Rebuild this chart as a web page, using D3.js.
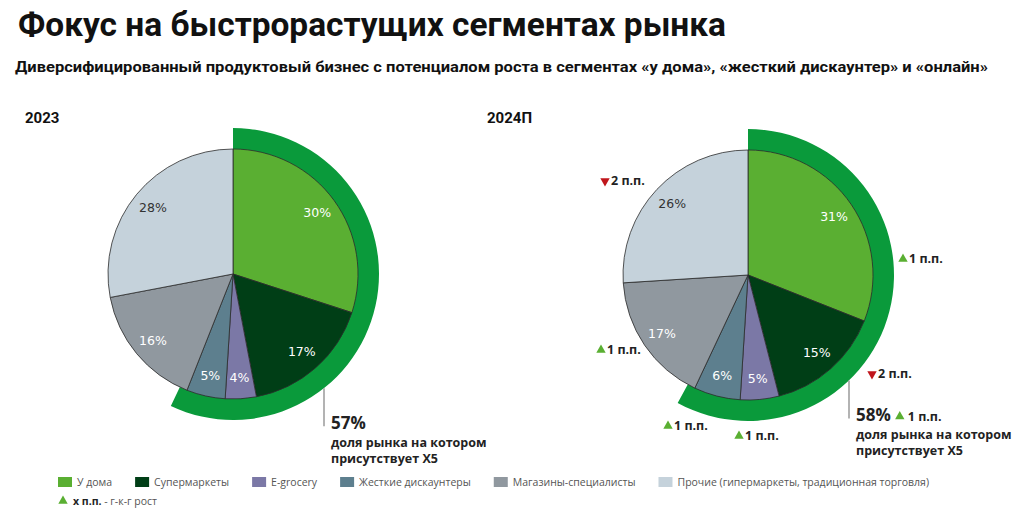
<!DOCTYPE html>
<html>
<head>
<meta charset="utf-8">
<script src="https://cdn.jsdelivr.net/npm/d3@7"></script>
<style>
  body { margin: 0; background: #fff; }
  svg { display: block; }
</style>
</head>
<body>
<svg id="chart" width="1024" height="512"></svg>
<script>
const categories = [
  "У дома",
  "Супермаркеты",
  "E-grocery",
  "Жесткие дискаунтеры",
  "Магазины-специалисты",
  "Прочие (гипермаркеты, традиционная торговля)",
];
const share2023 = [30, 17, 4, 5, 16, 28];
const share2024 = [31, 15, 5, 6, 17, 26];
const change2024 = [1, -2, 1, 1, 1, -2]; // п.п. г-к-г
const years = ["2023", "2024П"];
const x5Share = [57, 58];
const x5Change = [null, 1];

const colors = ["#5aaf32", "#003e16", "#7b78a6", "#5d7f8e", "#90989f", "#c5d2db"];
const labelColors = ["#fff", "#fff", "#fff", "#fff", "#fff", "#333"];
const ringColor = "#0a9a3b";
const upColor = "#5aaf32";
const downColor = "#c0161c";
const textColor = "#222";
const font = "'Open Sans', 'Noto Sans', sans-serif";

const svg = d3.select("#chart");

// header
svg.append("text")
  .attr("x", 18).attr("y", 36)
  .attr("textLength", 708).attr("lengthAdjust", "spacingAndGlyphs")
  .style("font-family", "Roboto, sans-serif")
  .style("font-weight", "700")
  .style("font-size", "33px")
  .style("fill", "#111")
  .text("Фокус на быстрорастущих сегментах рынка");

svg.append("text")
  .attr("x", 15).attr("y", 72)
  .attr("textLength", 973).attr("lengthAdjust", "spacingAndGlyphs")
  .style("font-family", "Roboto, sans-serif")
  .style("font-weight", "700")
  .style("font-size", "15px")
  .style("fill", "#111")
  .text("Диверсифицированный продуктовый бизнес с потенциалом роста в сегментах «у дома», «жесткий дискаунтер» и «онлайн»");

const radius = 125;
const ringOuter = 146;
const centers = [[233, 274], [748, 275]];
const yearX = [25, 487];
// where the change notes sit, offsets from the 2024 pie centre
const noteOffsets = [[155, -16], [124, 99], [-9, 161], [-80, 151], [-147, 75], [-143, -94]];
// x offset of the X5 leader line from the pie centre
const leaderDx = [91, 101];

const pie = d3.pie().sort(null).value((d) => d);
const arc = d3.arc().innerRadius(0).outerRadius(radius);
const labelArc = d3.arc().innerRadius(104).outerRadius(104);
const ringArc = d3.arc().innerRadius(radius - 0.5).outerRadius(ringOuter);

function triangle(g, x, y, up) {
  const sym = d3.symbol().type(d3.symbolTriangle).size(38);
  g.append("path")
    .attr("d", sym())
    .attr("transform", `translate(${x},${y}) rotate(${up ? 0 : 180})`)
    .style("fill", up ? upColor : downColor);
}

[share2023, share2024].forEach((values, i) => {
  const [cx, cy] = centers[i];

  svg.append("text")
    .attr("x", yearX[i]).attr("y", 123)
    .style("font-family", "Roboto, sans-serif")
    .style("font-weight", "700")
    .style("font-size", "15px")
    .style("fill", "#111")
    .text(years[i]);

  const g = svg.append("g").attr("transform", `translate(${cx},${cy})`);

  // X5 presence ring
  g.append("path")
    .attr("d", ringArc({ startAngle: 0, endAngle: (x5Share[i] / 100) * 2 * Math.PI }))
    .style("fill", ringColor);

  const arcs = pie(values);

  g.selectAll("path.slice")
    .data(arcs)
    .enter()
    .append("path")
    .attr("class", "slice")
    .attr("d", arc)
    .style("fill", (d, j) => colors[j])
    .style("stroke", "#2b2b2b")
    .style("stroke-width", 0.8);

  g.selectAll("text.pct")
    .data(arcs)
    .enter()
    .append("text")
    .attr("class", "pct")
    .attr("transform", (d) => `translate(${labelArc.centroid(d)})`)
    .attr("text-anchor", "middle")
    .attr("dy", "0.35em")
    .style("font-family", "'DejaVu Sans', sans-serif")
    .style("font-size", "12.5px")
    .style("fill", (d, j) => labelColors[j])
    .text((d) => `${d.data}%`);

  // leader line + X5 share note
  const lx = leaderDx[i];
  const ly = Math.sqrt(ringOuter * ringOuter - lx * lx);
  g.append("line")
    .attr("x1", lx).attr("x2", lx)
    .attr("y1", ly).attr("y2", ly + 38)
    .style("stroke", "#9a9a9a")
    .style("stroke-width", 1.5);

  const note = g.append("g").attr("transform", `translate(${lx + 7},${ly + 41})`);
  const big = note.append("text")
    .style("font-family", font)
    .style("font-weight", "700")
    .style("font-size", "17px")
    .style("fill", textColor)
    .text(`${x5Share[i]}%`);
  if (x5Change[i] !== null) {
    const w = big.node().getComputedTextLength();
    triangle(note, w + 9, -5, x5Change[i] > 0);
    note.append("text")
      .attr("x", w + 17)
      .style("font-family", font)
      .style("font-weight", "700")
      .style("font-size", "12.5px")
      .style("fill", textColor)
      .text(`${Math.abs(x5Change[i])} п.п.`);
  }
  ["доля рынка на котором", "присутствует X5"].forEach((t, k) => {
    note.append("text")
      .attr("y", 18 + k * 16)
      .style("font-family", font)
      .style("font-weight", "700")
      .style("font-size", "12.5px")
      .style("fill", textColor)
      .text(t);
  });

  // year-on-year change notes (forecast only)
  if (i === 1) {
    change2024.forEach((c, j) => {
      const [dx, dy] = noteOffsets[j];
      triangle(g, dx, dy, c > 0);
      g.append("text")
        .attr("x", dx + 6).attr("y", dy)
        .attr("dy", "0.35em")
        .style("font-family", font)
        .style("font-weight", "700")
        .style("font-size", "12.5px")
        .style("fill", textColor)
        .text(`${Math.abs(c)} п.п.`);
    });
  }
});

// legend
const legend = svg.append("g").attr("transform", "translate(58,482)");
let lxPos = 0;
categories.forEach((name, j) => {
  const item = legend.append("g").attr("transform", `translate(${lxPos},0)`);
  item.append("rect")
    .attr("x", 0).attr("y", -5)
    .attr("width", 14).attr("height", 10)
    .style("fill", colors[j]);
  const t = item.append("text")
    .attr("x", 19).attr("dy", "0.35em")
    .style("font-family", font)
    .style("font-size", "10.5px")
    .style("fill", "#555")
    .text(name);
  lxPos += 19 + t.node().getComputedTextLength() + 23;
});

const key = svg.append("g").attr("transform", "translate(63,501)");
triangle(key, 0, 0, true);
const keyText = key.append("text")
  .attr("x", 10).attr("dy", "0.35em")
  .style("font-family", font)
  .style("font-size", "10.5px")
  .style("fill", "#555");
keyText.append("tspan").style("font-weight", "700").style("fill", "#222").text("x п.п.");
keyText.append("tspan").text(" - г-к-г рост");
</script>
</body>
</html>
